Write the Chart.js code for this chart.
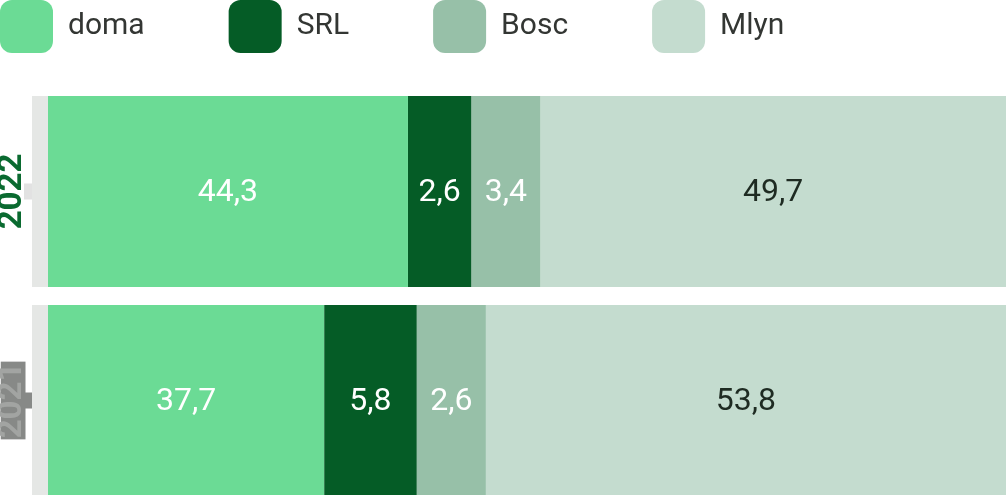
<!DOCTYPE html>
<html>
<head>
<meta charset="utf-8">
<script src="https://cdn.jsdelivr.net/npm/chart.js@4/dist/chart.umd.min.js"></script>
<style>
  html, body { margin: 0; padding: 0; background: #fff; overflow: hidden; }
  #wrap { width: 1006px; height: 505px; position: relative; }
</style>
</head>
<body>
<div id="wrap"><canvas id="myChart"></canvas></div>
<script>
var years = ['2022', '2021'];
var seriesNames = ['doma', 'SRL', 'Bosc', 'Mlyn'];

// printed values (shares, %)
var values2022 = [44.3, 2.6, 3.4, 49.7];
var values2021 = [37.7, 5.8, 2.6, 53.8];

// segment lengths as drawn in the picture (small shares are widened)
var barLen2022 = [38.6, 6.5, 7.1, 47.8];
var barLen2021 = [30.0, 9.5, 7.1, 53.4];

var colors = ['#6bdb95', '#055c26', '#97c0a8', '#c4dccf'];
var labelColors = ['#ffffff', '#ffffff', '#ffffff', '#1e2b22'];
var legendPad = 84;
var stripWidth = 16;

function formatValue (v) {
    return String(v).replace('.', ',');
}

var datasets = seriesNames.map(function (name, i) {
    var ds = {
        label: name,
        data: [barLen2022[i], barLen2021[i]],
        values: [values2022[i], values2021[i]],
        backgroundColor: colors[i],
        borderWidth: 0,
        borderSkipped: false,
        categoryPercentage: 0.914,
        barPercentage: 1
    };
    if (i === 0) { // light grey strip in front of the first segment
        ds.borderWidth = {left: stripWidth, top: 0, right: 0, bottom: 0};
        ds.borderColor = '#e5e7e5';
    }
    return ds;
});

var legendGap = {
    id: 'legendGap',
    beforeInit: function (chart) {
        var fit = chart.legend.fit;
        chart.legend.fit = function () {
            fit.call(this);
            this.height = legendPad + 87;
        };
    }
};

var valueLabels = {
    id: 'valueLabels',
    afterDatasetsDraw: function (chart) {
        var ctx = chart.ctx;
        ctx.save();
        ctx.font = '400 32px Roboto';
        ctx.textAlign = 'center';
        ctx.textBaseline = 'middle';
        chart.data.datasets.forEach(function (ds, i) {
            chart.getDatasetMeta(i).data.forEach(function (bar, j) {
                var p = bar.getProps(['x', 'y', 'base'], true);
                var left = p.base + (i === 0 ? stripWidth : 0);
                ctx.fillStyle = labelColors[i];
                ctx.fillText(formatValue(ds.values[j]), (left + p.x) / 2, p.y + 1);
            });
        });
        ctx.restore();
    }
};

var config = {
    type: 'bar',
    data: { labels: years, datasets: datasets },
    options: {
        indexAxis: 'y',
        responsive: true,
        maintainAspectRatio: false,
        animation: false,
        layout: { padding: { top: -legendPad, left: -legendPad, right: 0, bottom: 0 } },
        scales: {
            x: { stacked: true, min: 0, max: 100, display: false },
            y: {
                stacked: true,
                border: { display: false },
                grid: {
                    offset: false,
                    drawOnChartArea: false,
                    drawTicks: true,
                    tickLength: 8,
                    tickWidth: 16,
                    tickColor: function (c) { return c.index === 1 ? '#878987' : 'rgba(60,60,60,0.15)'; }
                },
                ticks: {
                    minRotation: 90,
                    maxRotation: 90,
                    crossAlign: 'center',
                    padding: -27,
                    font: { family: 'Roboto', size: 33, weight: 'bold', lineHeight: 0.75 },
                    color: function (c) { return c.index === 0 ? '#0a6a30' : '#a2a4a2'; },
                    showLabelBackdrop: true,
                    backdropPadding: { left: 1, right: 1, top: 0, bottom: 0 },
                    backdropColor: function (c) { return c.index === 1 ? '#878987' : 'rgba(0,0,0,0)'; }
                },
                afterFit: function (scale) {
                    scale.width = legendPad + 32;
                }
            }
        },
        plugins: {
            tooltip: { enabled: false },
            legend: {
                position: 'top',
                align: 'start',
                labels: {
                    boxWidth: 53,
                    boxHeight: 53,
                    useBorderRadius: true,
                    borderRadius: 12,
                    padding: legendPad,
                    color: '#333633',
                    font: { family: 'Roboto', size: 30 },
                    generateLabels: function (chart) {
                        return Chart.defaults.plugins.legend.labels.generateLabels(chart).map(function (item) {
                            item.lineWidth = 0;
                            return item;
                        });
                    }
                }
            }
        }
    },
    plugins: [legendGap, valueLabels]
};

window.myChart = new Chart(document.getElementById('myChart').getContext('2d'), config);
</script>
</body>
</html>
